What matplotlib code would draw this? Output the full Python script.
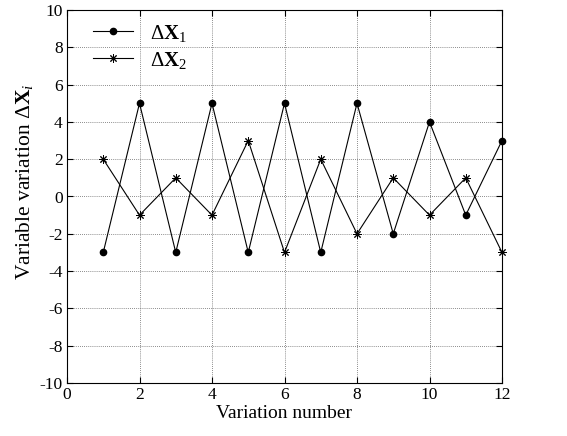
import numpy as np
import matplotlib
matplotlib.use('Agg')
import matplotlib.pyplot as plt

plt.rcParams['font.family'] = ['Liberation Serif', 'DejaVu Serif']
plt.rcParams['mathtext.fontset'] = 'custom'
plt.rcParams['mathtext.rm'] = 'Liberation Serif'
plt.rcParams['mathtext.it'] = 'Liberation Serif:italic'
plt.rcParams['mathtext.bf'] = 'Liberation Serif:bold'
plt.rcParams['axes.unicode_minus'] = False

n = [1, 2, 3, 4, 5, 6, 7, 8, 9, 10, 11, 12]
dx1 = [-3, 5, -3, 5, -3, 5, -3, 5, -2, 4, -1, 3]
dx2 = [2, -1, 1, -1, 3, -3, 2, -2, 1, -1, 1, -3]

fig = plt.figure(figsize=(5.67, 4.36), dpi=100)
ax = fig.add_axes([67/567, 1 - 383/436, (502-67)/567, (383-10)/436])

# asterisk marker: 8 arms like MATLAB '*'
star = (8, 2, 0)
ax.plot(n, dx1, '-', color='black', lw=0.8, marker='o', ms=4.5,
        clip_on=False, label=r'$\Delta\mathbf{X}_1$')
ax.plot(n, dx2, '-', color='black', lw=0.8, marker=star, ms=6, mew=0.7,
        clip_on=False, label=r'$\Delta\mathbf{X}_2$')

ax.set_xlim(0, 12)
ax.set_ylim(-10, 10)
ax.set_xticks(range(0, 13, 2))
ax.set_yticks(range(-10, 11, 2))
ax.grid(True, linestyle=(0, (1, 1.5)), color='0.4', lw=0.6)
ax.tick_params(direction='in', top=True, right=True, labelsize=12.5, length=4, pad=3)
for s in ax.spines.values():
    s.set_linewidth(0.8)

ax.set_xlabel('Variation number', fontsize=14, labelpad=1)
ax.set_ylabel(r'Variable variation $\Delta\mathbf{X}_i$', fontsize=15.5)
ax.yaxis.set_label_coords(-0.074, 0.54)

leg = ax.legend(loc='upper left', bbox_to_anchor=(0.032, 1.0), frameon=False,
                fontsize=15, handlelength=1.9, handletextpad=0.8,
                borderaxespad=0.2, labelspacing=0.3)

fig.savefig('out.png', dpi=100)
